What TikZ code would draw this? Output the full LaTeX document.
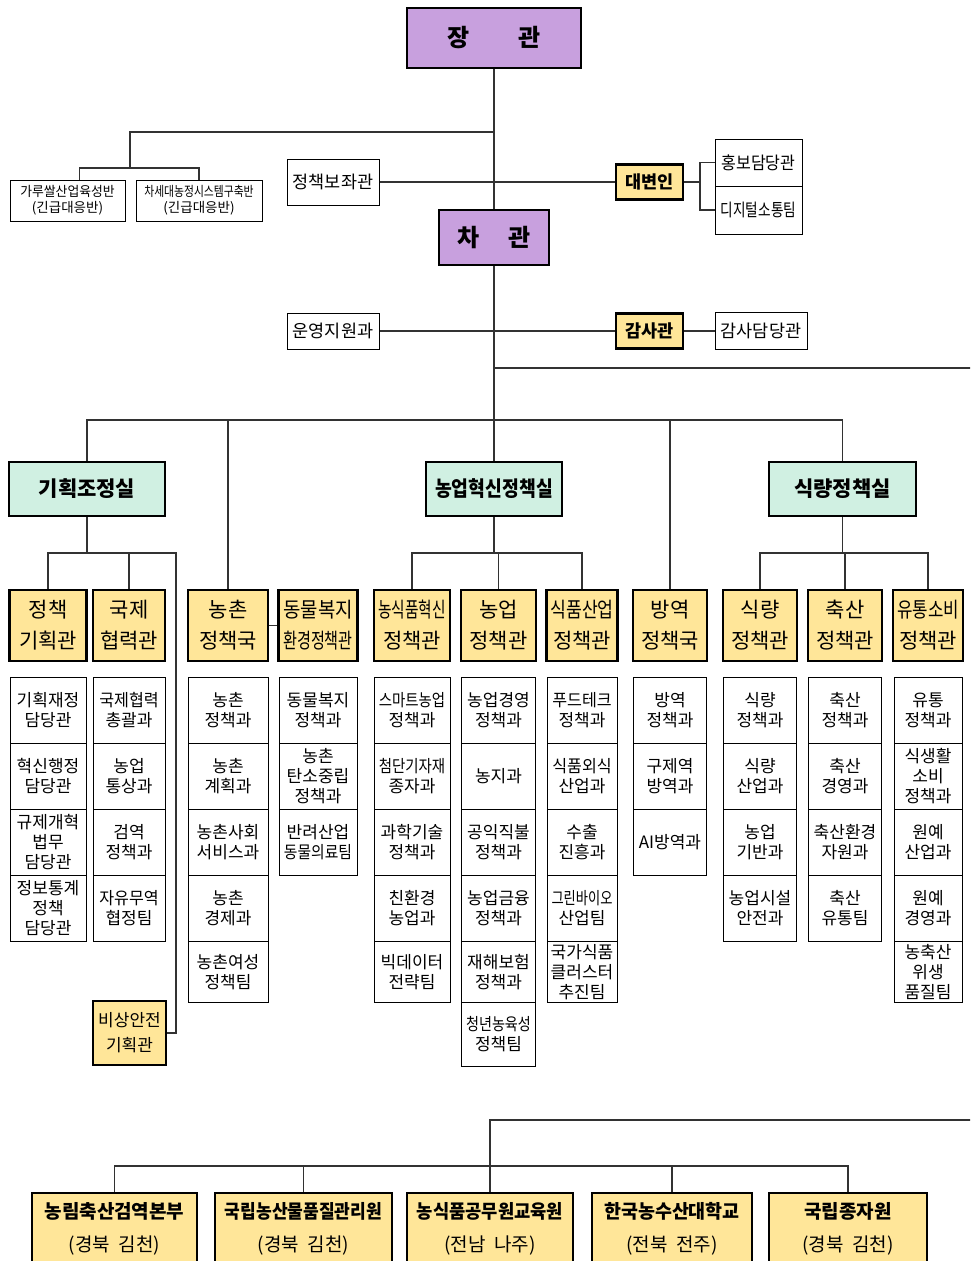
\documentclass[tikz,border=0pt]{standalone}
\usepackage{fontspec}
\setmainfont{Noto Sans CJK KR}
\usepackage{graphicx}
\usetikzlibrary{positioning}

\definecolor{minpurple}{RGB}{200,160,222}
\definecolor{deptyellow}{RGB}{255,230,153}
\definecolor{labmint}{RGB}{208,240,226}
\definecolor{linegray}{RGB}{50,50,50}
\newcommand{\hsq}[2][0.88]{\scalebox{#1}[1]{#2}}

\begin{document}
\begin{tikzpicture}[
    x=1pt, y=-1pt,
    conn/.style={draw=linegray, line width=1.2pt},
    chief/.style={rectangle, draw, line width=2.5pt, fill=minpurple, font=\fontsize{24}{28}\selectfont\bfseries},
    lab/.style={rectangle, draw, line width=2.5pt, fill=labmint, minimum height=54pt, inner sep=1pt, font=\fontsize{21}{24}\selectfont\bfseries},
    post/.style={rectangle, draw, line width=2.5pt, fill=deptyellow, minimum width=67pt, minimum height=35pt, inner sep=1pt, font=\fontsize{17.5}{20}\selectfont\bfseries},
    staff/.style={rectangle, draw, line width=1pt, fill=white, minimum width=92pt, inner sep=1pt, font=\fontsize{17.5}{20}\selectfont},
    taskforce/.style={rectangle, draw, line width=1pt, minimum height=41pt, inner sep=1pt, align=center, font=\fontsize{13.5}{16}\selectfont},
    bureau/.style={rectangle, draw, line width=2.5pt, fill=deptyellow, minimum height=71pt, inner sep=1pt, align=center, font=\fontsize{21}{31}\selectfont},
    unit/.style={rectangle, draw, line width=1pt, outer sep=0pt, minimum height=66pt, inner sep=1pt, align=center, font=\fontsize{17}{20}\selectfont},
    agency/.style={rectangle, draw, line width=2.5pt, fill=deptyellow, minimum height=72pt, inner sep=1pt, align=center, font=\fontsize{19}{33}\selectfont}
  ]
    \useasboundingbox (0,0) rectangle (970,1261);
    \clip (0,0) rectangle (970,1261);

    % Minister and vice minister
    \node[chief, minimum width=174pt, minimum height=60pt] (minister) at (494,38) {장\hspace{2em}관};
    \node[chief, minimum width=110pt, minimum height=55pt] (vice) at (494,237.5) {차\hspace{1.2em}관};

    % Task forces
    \node[taskforce, minimum width=115pt] (rice) at (67.5,200.5) {\hsq[0.95]{가루쌀산업육성반}\\(긴급대응반)};
    \node[taskforce, minimum width=126pt] (nextgen) at (199,200.5) {\hsq[0.8]{차세대농정시스템구축반}\\(긴급대응반)};

    % Staff offices
    \node[staff, minimum height=46pt] (aide) at (333,182) {정책보좌관};
    \node[post] (spokes) at (649.5,182) {대변인};
    \node[staff, minimum width=87pt, minimum height=47pt, outer sep=0pt] (pr) at (758.5,162.5) {\hsq[0.92]{홍보담당관}};
    \node[staff, minimum width=87pt, minimum height=48pt, outer sep=0pt, below=0pt of pr] (digi) {\hsq[0.78]{디지털소통팀}};
    \node[staff, minimum height=36pt] (ops) at (333,331) {운영지원과};
    \node[post] (audit) at (649.5,331) {감사관};
    \node[staff, minimum height=37pt] (auditoff) at (761,331) {감사담당관};

    % Offices
    \node[lab, minimum width=156pt] (plan) at (87,489) {기획조정실};
    \node[lab, minimum width=136pt] (innov) at (494,489) {\hsq[0.87]{농업혁신정책실}};
    \node[lab, minimum width=147pt] (food) at (842.5,489) {식량정책실};

    % Bureaus
    \node[bureau, minimum width=77pt] (polplan) at (48,625.5) {정책\\기획관};
    \node[bureau, minimum width=72pt] (intl) at (129,625.5) {국제\\협력관};
    \node[bureau, minimum width=80pt] (rural) at (228,625.5) {농촌\\정책국};
    \node[bureau, minimum width=79pt] (animal) at (318,625.5) {\hsq[0.9]{동물복지}\\\hsq[0.72]{환경정책관}};
    \node[bureau, minimum width=76pt] (smartpol) at (412,625.5) {\hsq[0.7]{농식품혁신}\\정책관};
    \node[bureau, minimum width=75pt] (farmpol) at (498.5,625.5) {농업\\정책관};
    \node[bureau, minimum width=71pt] (foodind) at (582,625.5) {\hsq[0.82]{식품산업}\\정책관};
    \node[bureau, minimum width=74pt] (quarpol) at (670,625.5) {방역\\정책국};
    \node[bureau, minimum width=74pt] (grainpol) at (760,625.5) {식량\\정책관};
    \node[bureau, minimum width=74pt] (livepol) at (845,625.5) {축산\\정책관};
    \node[bureau, minimum width=70pt] (distpol) at (928,625.5) {\hsq[0.8]{유통소비}\\정책관};
    \node[bureau, minimum width=73pt, minimum height=64pt, font=\fontsize{17}{25}\selectfont] (emerg) at (129.5,1033) {비상안전\\기획관};

    % Divisions
    \begin{scope}[unit/.append style={minimum width=76pt}]
      \node[unit, below=15pt of polplan] (pp1) {기획재정\\담당관};
      \node[unit, below=0pt of pp1] (pp2) {혁신행정\\담당관};
      \node[unit, below=0pt of pp2] (pp3) {규제개혁\\법무\\담당관};
      \node[unit, below=0pt of pp3] (pp4) {정보통계\\정책\\담당관};
    \end{scope}
    \begin{scope}[unit/.append style={minimum width=72pt}]
      \node[unit, below=15pt of intl] (ic1) {\hsq[0.95]{국제협력}\\총괄과};
      \node[unit, below=0pt of ic1] (ic2) {농업\\통상과};
      \node[unit, below=0pt of ic2] (ic3) {검역\\정책과};
      \node[unit, below=0pt of ic3] (ic4) {\hsq[0.95]{자유무역}\\협정팀};
    \end{scope}
    \begin{scope}[unit/.append style={minimum width=80pt}]
      \node[unit, below=15pt of rural] (rp1) {농촌\\정책과};
      \node[unit, below=0pt of rp1] (rp2) {농촌\\계획과};
      \node[unit, below=0pt of rp2] (rp3) {농촌사회\\서비스과};
      \node[unit, below=0pt of rp3] (rp4) {농촌\\경제과};
      \node[unit, below=0pt of rp4, minimum height=61pt] (rp5) {농촌여성\\정책팀};
    \end{scope}
    \begin{scope}[unit/.append style={minimum width=78pt}]
      \node[unit, below=15pt of animal] (aw1) {동물복지\\정책과};
      \node[unit, below=0pt of aw1] (aw2) {농촌\\탄소중립\\정책과};
      \node[unit, below=0pt of aw2] (aw3) {반려산업\\\hsq[0.87]{동물의료팀}};
    \end{scope}
    \begin{scope}[unit/.append style={minimum width=76pt}]
      \node[unit, below=15pt of smartpol] (sp1) {\hsq[0.85]{스마트농업}\\정책과};
      \node[unit, below=0pt of sp1] (sp2) {\hsq[0.85]{첨단기자재}\\종자과};
      \node[unit, below=0pt of sp2] (sp3) {과학기술\\정책과};
      \node[unit, below=0pt of sp3] (sp4) {친환경\\농업과};
      \node[unit, below=0pt of sp4, minimum height=61pt] (sp5) {빅데이터\\전략팀};
    \end{scope}
    \begin{scope}[unit/.append style={minimum width=74pt}]
      \node[unit, below=15pt of farmpol] (fp1) {농업경영\\정책과};
      \node[unit, below=0pt of fp1] (fp2) {농지과};
      \node[unit, below=0pt of fp2] (fp3) {공익직불\\정책과};
      \node[unit, below=0pt of fp3] (fp4) {농업금융\\정책과};
      \node[unit, below=0pt of fp4, minimum height=61pt] (fp5) {재해보험\\정책과};
      \node[unit, below=0pt of fp5, minimum height=64pt] (fp6) {\hsq[0.83]{청년농육성}\\정책팀};
    \end{scope}
    \begin{scope}[unit/.append style={minimum width=70pt}]
      \node[unit, below=15pt of foodind] (fi1) {\hsq[0.95]{푸드테크}\\정책과};
      \node[unit, below=0pt of fi1] (fi2) {\hsq[0.95]{식품외식}\\산업과};
      \node[unit, below=0pt of fi2] (fi3) {수출\\진흥과};
      \node[unit, below=0pt of fi3] (fi4) {\hsq[0.78]{그린바이오}\\산업팀};
      \node[unit, below=0pt of fi4, minimum height=61pt] (fi5) {국가식품\\클러스터\\추진팀};
    \end{scope}
    \begin{scope}[unit/.append style={minimum width=73pt}]
      \node[unit, below=15pt of quarpol] (qp1) {방역\\정책과};
      \node[unit, below=0pt of qp1] (qp2) {구제역\\방역과};
      \node[unit, below=0pt of qp2] (qp3) {AI방역과};

      \node[unit, below=15pt of grainpol] (gp1) {식량\\정책과};
      \node[unit, below=0pt of gp1] (gp2) {식량\\산업과};
      \node[unit, below=0pt of gp2] (gp3) {농업\\기반과};
      \node[unit, below=0pt of gp3] (gp4) {농업시설\\안전과};

      \node[unit, below=15pt of livepol] (lp1) {축산\\정책과};
      \node[unit, below=0pt of lp1] (lp2) {축산\\경영과};
      \node[unit, below=0pt of lp2] (lp3) {축산환경\\자원과};
      \node[unit, below=0pt of lp3] (lp4) {축산\\유통팀};
    \end{scope}
    \begin{scope}[unit/.append style={minimum width=68pt}]
      \node[unit, below=15pt of distpol] (dp1) {유통\\정책과};
      \node[unit, below=0pt of dp1] (dp2) {식생활\\소비\\정책과};
      \node[unit, below=0pt of dp2] (dp3) {원예\\산업과};
      \node[unit, below=0pt of dp3] (dp4) {원예\\경영과};
      \node[unit, below=0pt of dp4, minimum height=61pt] (dp5) {농축산\\위생\\품질팀};
    \end{scope}

    % Agencies
    \node[agency, minimum width=165pt] (quar) at (114.5,1229) {{\bfseries 농림축산검역본부}\\(경북~~김천)};
    \node[agency, minimum width=177pt] (qual) at (303.5,1229) {{\bfseries\hsq[0.9]{국립농산물품질관리원}}\\(경북~~김천)};
    \node[agency, minimum width=166pt] (coll) at (490,1229) {{\bfseries\hsq[0.93]{농식품공무원교육원}}\\(전남~~나주)};
    \node[agency, minimum width=160pt] (univ) at (672,1229) {{\bfseries\hsq[0.97]{한국농수산대학교}}\\(전북~~전주)};
    \node[agency, minimum width=158pt] (seed) at (848,1229) {{\bfseries 국립종자원}\\(경북~~김천)};

    % Junctions
    \coordinate (tjoin) at (494,132);
    \coordinate (tfork) at (130,168);
    \coordinate (sjoin) at (700,182);
    \coordinate (east) at (975,368);
    \coordinate (hub) at (494,420);
    \coordinate (pbar) at (87,553);
    \coordinate (pend) at (176,553);
    \coordinate (ibar) at (494,553);
    \coordinate (fbar) at (842.5,553);
    \coordinate (seast) at (975,1120);
    \coordinate (bbar) at (490,1166);

    % Lines - top
    \draw[conn] (minister) -- (vice);
    \draw[conn] (tjoin) -| (tfork);
    \draw[conn] ([xshift=12pt]rice.north) |- (tfork) -| (nextgen);
    \draw[conn] (aide) -- (spokes);
    \draw[conn] (spokes) -- (sjoin);
    \draw[conn] (pr) -| (sjoin) |- (digi);
    \draw[conn] (ops) -- (audit);
    \draw[conn] (audit) -- (auditoff);

    % Lines - offices
    \draw[conn] (vice) -- (hub);
    \draw[conn] (east) -- (east -| vice);
    \draw[conn] (plan) |- (hub) -| (food);
    \draw[conn] (innov) -- (hub);
    \draw[conn] (rural) -- (rural |- hub);
    \draw[conn] (quarpol) -- (quarpol |- hub);
    \draw[conn] (rural) -- (animal);

    % Lines - bureaus
    \draw[conn] (plan) -- (pbar);
    \draw[conn] (polplan) |- (pend) |- (emerg);
    \draw[conn] (intl) -- (intl |- pend);
    \draw[conn] (innov) -- (ibar);
    \draw[conn] (smartpol) |- (ibar) -| (foodind);
    \draw[conn] (farmpol) -- (farmpol |- ibar);
    \draw[conn] (food) -- (fbar);
    \draw[conn] (grainpol) |- (fbar) -| (distpol);
    \draw[conn] (livepol) -- (livepol |- fbar);

    % Lines - agencies
    \draw[conn] (seast) -| (coll);
    \draw[conn] (quar) |- (bbar) -| (seed);
    \draw[conn] (qual) -- (qual |- bbar);
    \draw[conn] (univ) -- (univ |- bbar);

  \end{tikzpicture}
\end{document}
